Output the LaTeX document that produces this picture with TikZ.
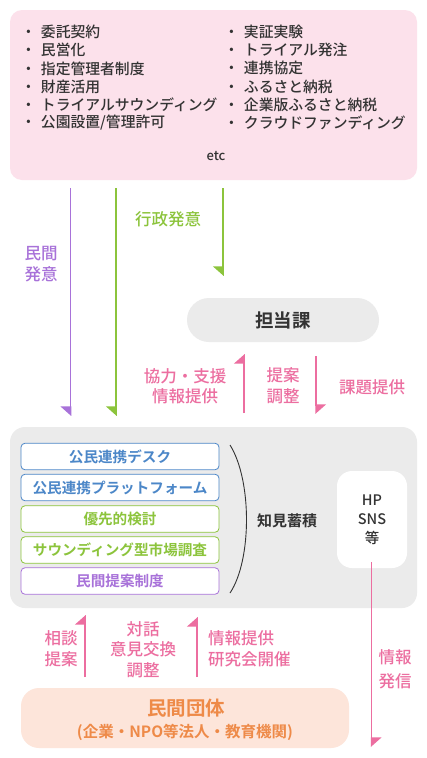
\documentclass[tikz,border=0pt]{standalone}
\usepackage{fontspec}
\setmainfont{Noto Sans CJK JP Medium}[BoldFont={Noto Sans CJK JP Bold}]
\usetikzlibrary{arrows.meta}
\definecolor{pinkbg}{HTML}{FCE1EB}
\definecolor{greybg}{HTML}{EBEBEB}
\definecolor{txt}{HTML}{333333}
\definecolor{purp}{HTML}{A872D9}
\definecolor{grn}{HTML}{8CC43C}
\definecolor{pnk}{HTML}{EC6EA0}
\definecolor{blu}{HTML}{4C87C8}
\definecolor{org}{HTML}{EE8A48}
\definecolor{peach}{HTML}{FDE5DA}
\begin{document}
\begin{tikzpicture}[x=1pt,y=-1pt,
 panel/.style={rounded corners=#1,inner sep=0pt},
 item/.style={anchor=west,inner sep=0pt,text=txt,font=\fontsize{14.8}{18}\selectfont},
 lbl/.style={inner sep=0pt,align=center,font=\fontsize{16.5}{20.5}\selectfont},
 flow/.style={line width=1.5pt},
 flagW/.style={-{Triangle[harpoon,swap,length=9pt,width=20pt]}},
 flagE/.style={-{Triangle[harpoon,length=9pt,width=20pt]}},
 inbox/.style={draw=#1,text=#1,line width=0.8pt,fill=white,rounded corners=4pt,minimum width=198pt,minimum height=26.5pt,inner sep=0pt,font=\fontsize{14.6}{16}\selectfont\bfseries}
]
\useasboundingbox (0,0) rectangle (427,758);
\fill[white] (0,0) rectangle (427,758);
% top panel
\node[panel=12pt,fill=pinkbg,minimum width=407pt,minimum height=170pt] (top) at (213.5,95) {};
\foreach \t [count=\i] in {委託契約,民営化,指定管理者制度,財産活用,トライアルサウンディング,公園設置/管理許可}
  \node[item] (L\i) at (21,{32+18.2*(\i-1)}) {・\hspace{5pt}\t};
\foreach \t [count=\i] in {実証実験,トライアル発注,連携協定,ふるさと納税,企業版ふるさと納税,クラウドファンディング}
  \node[item] (R\i) at (224,{32+18.2*(\i-1)}) {・\hspace{5pt}\t};
\node[inner sep=0pt,text=txt,font=\fontsize{13}{15}\selectfont] (etc) at (216,156) {etc};
% tanto-ka
\node[panel=22pt,fill=greybg,minimum width=192pt,minimum height=44pt,text=txt,font=\fontsize{18.5}{20}\selectfont\bfseries] (tanto) at (283,320) {担当課};
% big grey panel
\node[panel=15pt,fill=greybg,minimum width=407pt,minimum height=181pt] (mid) at (213.5,517.5) {};
\node[inbox=blu] (b1) at (120,456.5) {公民連携デスク};
\node[inbox=blu] (b2) at (120,487.5) {公民連携プラットフォーム};
\node[inbox=grn] (b3) at (120,519) {優先的検討};
\node[inbox=grn] (b4) at (120,550) {サウンディング型市場調査};
\node[inbox=purp] (b5) at (120,581) {民間提案制度};
\coordinate (arcA) at (230,445);
\coordinate (arcB) at (230,593);
\draw[line width=0.9pt,txt] (arcA) .. controls (252,480) and (252,560) .. (arcB);
\node[inner sep=0pt,text=txt,font=\fontsize{15}{17}\selectfont\bfseries] (chiken) at (287,521) {知見蓄積};
\node[panel=15pt,fill=white,minimum width=70pt,minimum height=97pt,align=center,text=txt,font=\fontsize{14.5}{19}\selectfont] (hp) at (372,519.5) {HP\\SNS\\等};
% bottom box
\node[panel=18pt,fill=peach,minimum width=328pt,minimum height=60pt] (minkan) at (185,718) {};
\node[inner sep=0pt,text=org,font=\fontsize{19.5}{22}\selectfont\bfseries] (mt1) at (186,708) {民間団体};
\node[inner sep=0pt,text=org,font=\fontsize{15.5}{18}\selectfont\bfseries] (mt2) at (185,732) {(企業・NPO等法人・教育機関)};
% coordinates for arrows
\coordinate (p1) at (70.5,188); \coordinate (p2) at (70.5,416);
\coordinate (g1) at (116,188); \coordinate (g2) at (116,416);
\coordinate (g3) at (223,188); \coordinate (g4) at (223,276);
\coordinate (k1) at (244,413); \coordinate (k2) at (244,354);
\coordinate (k3) at (316,356); \coordinate (k4) at (316,414);
\coordinate (h1) at (371.5,562); \coordinate (h2) at (371.5,747);
\coordinate (u1) at (85,677); \coordinate (u2) at (85,615);
\coordinate (u3) at (197,677); \coordinate (u4) at (197,617);
\draw[flow,purp,flagW] (p1) -- (p2);
\draw[flow,grn,flagW] (g1) -- (g2);
\draw[flow,grn,flagW] (g3) -- (g4);
\draw[flow,pnk,flagE] (k1) -- (k2);
\draw[flow,pnk,flagE] (k3) -- (k4);
\draw[flow,pnk,flagE] (h1) -- (h2);
\draw[flow,pnk,flagE] (u1) -- (u2);
\draw[flow,pnk,flagE] (u3) -- (u4);
% labels
\node[lbl,text=grn] (lg) at (168,219) {行政発意};
\node[lbl,text=purp] (lp) at (41,264) {民間\\発意};
\node[lbl,text=pnk] (lk1) at (185,386) {協力・支援\\情報提供};
\node[lbl,text=pnk] (lk2) at (283,386) {提案\\調整};
\node[lbl,text=pnk] (lk3) at (372,387) {課題提供};
\node[lbl,text=pnk] (lb1) at (61,648.5) {相談\\提案};
\node[lbl,text=pnk] (lb2) at (143,649.5) {対話\\意見交換\\調整};
\node[lbl,text=pnk,align=left,anchor=west] (lb3) at (208,649) {情報提供\\研究会開催};
\node[lbl,text=pnk,font=\fontsize{16.5}{24}\selectfont] (lh) at (395,669.5) {情報\\発信};
\end{tikzpicture}
\end{document}
